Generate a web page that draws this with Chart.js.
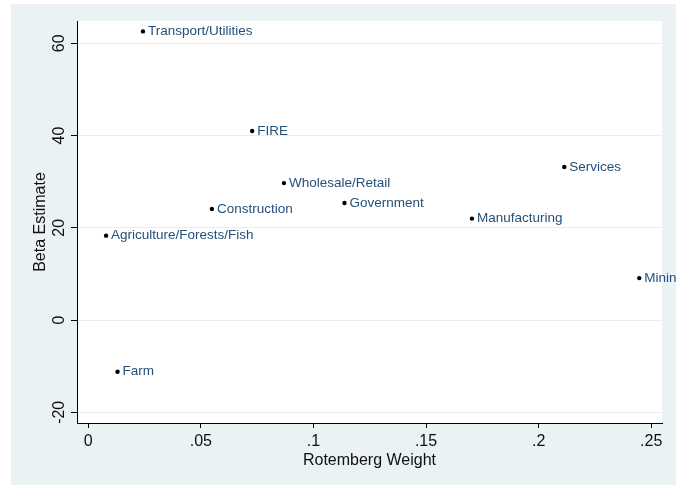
<!DOCTYPE html>
<html>
<head>
<meta charset="utf-8">
<script src="https://cdn.jsdelivr.net/npm/chart.js@4/dist/chart.umd.min.js"></script>
<style>
  html, body { margin: 0; padding: 0; background: #ffffff; }
  canvas { display: block; }
</style>
</head>
<body>
<canvas id="chart" width="676" height="485"></canvas>
<script>
// Industry groups: Rotemberg weight vs. beta estimate
const industries = [
  'Transport/Utilities', 'FIRE', 'Wholesale/Retail', 'Construction',
  'Agriculture/Forests/Fish', 'Services', 'Government', 'Manufacturing',
  'Mining', 'Farm'
];
const rotembergWeight = [0.0243, 0.0728, 0.0869, 0.0549, 0.0079, 0.2114, 0.1138, 0.1704, 0.2447, 0.0130];
const betaEstimate    = [62.6, 41.0, 29.7, 24.1, 18.3, 33.2, 25.4, 22.0, 9.1, -11.2];

const xTickValues = [0, 0.05, 0.1, 0.15, 0.2, 0.25];
const xTickLabels = ['0', '.05', '.1', '.15', '.2', '.25'];
const yTickValues = [-20, 0, 20, 40, 60];
const yTickLabels = ['-20', '0', '20', '40', '60'];

const xTitle = 'Rotemberg Weight';
const yTitle = 'Beta Estimate';

const FONT = '"Liberation Sans", Arial, Helvetica, sans-serif';
const OUTER_BG = '#eaf2f3';
const GRID = '#e6eef0';
const LABEL_COLOR = '#24507a';

const points = rotembergWeight.map((w, i) => ({ x: w, y: betaEstimate[i] }));

// Backgrounds: outer graph region and white plot region
const backdrop = {
  id: 'backdrop',
  beforeDraw(chart) {
    const { ctx, chartArea: a } = chart;
    ctx.save();
    ctx.fillStyle = '#ffffff';
    ctx.fillRect(0, 0, chart.width, chart.height);
    ctx.fillStyle = OUTER_BG;
    ctx.fillRect(11, 4, chart.width - 11, chart.height - 4);
    ctx.fillStyle = '#ffffff';
    ctx.fillRect(a.left, a.top, a.right - a.left, a.bottom - a.top);
    ctx.restore();
  }
};

// Vertical y tick labels and both axis titles
const axisText = {
  id: 'axisText',
  afterDraw(chart) {
    const { ctx, chartArea: a } = chart;
    const ys = chart.scales.y;
    ctx.save();
    ctx.fillStyle = '#111111';
    ctx.font = '16px ' + FONT;
    ctx.textAlign = 'center';
    ctx.textBaseline = 'alphabetic';
    yTickValues.forEach((v, i) => {
      const py = ys.getPixelForValue(v);
      ctx.save();
      ctx.translate(64, py);
      ctx.rotate(-Math.PI / 2);
      ctx.fillText(yTickLabels[i], 0, 0);
      ctx.restore();
    });
    // y title
    ctx.save();
    ctx.translate(45, (a.top + a.bottom) / 2);
    ctx.rotate(-Math.PI / 2);
    ctx.fillText(yTitle, 0, 0);
    ctx.restore();
    // x title
    ctx.fillText(xTitle, (a.left + a.right) / 2, 465);
    ctx.restore();
  }
};

// Marker labels to the right of each point
const markerLabels = {
  id: 'markerLabels',
  afterDatasetsDraw(chart) {
    const { ctx } = chart;
    const meta = chart.getDatasetMeta(0);
    ctx.save();
    ctx.fillStyle = LABEL_COLOR;
    ctx.font = '13.5px ' + FONT;
    ctx.textAlign = 'left';
    ctx.textBaseline = 'middle';
    meta.data.forEach((el, i) => {
      ctx.fillText(industries[i], el.x + 5, el.y);
    });
    ctx.restore();
  }
};

new Chart(document.getElementById('chart'), {
  type: 'scatter',
  data: {
    datasets: [{
      data: points,
      pointRadius: 2.2,
      pointHoverRadius: 2.2,
      pointBackgroundColor: '#000000',
      pointBorderWidth: 0,
      showLine: false,
      clip: false
    }]
  },
  options: {
    responsive: false,
    animation: false,
    events: [],
    layout: { padding: { left: 0, top: 21, right: 14, bottom: 0 } },
    plugins: {
      legend: { display: false },
      tooltip: { enabled: false }
    },
    scales: {
      x: {
        type: 'linear',
        min: -0.005,
        max: 0.2548,
        afterBuildTicks(scale) { scale.ticks = xTickValues.map(v => ({ value: v })); },
        afterFit(scale) { scale.height = 62; },
        border: { display: true, color: '#000000', width: 1 },
        grid: {
          display: true,
          drawOnChartArea: false,
          drawTicks: true,
          tickLength: 5,
          tickColor: '#000000'
        },
        ticks: {
          padding: 4,
          color: '#111111',
          font: { family: FONT, size: 16 },
          maxRotation: 0,
          callback(value) {
            const i = xTickValues.findIndex(v => Math.abs(v - value) < 1e-9);
            return i >= 0 ? xTickLabels[i] : '';
          }
        }
      },
      y: {
        type: 'linear',
        min: -22.32,
        max: 64.85,
        afterBuildTicks(scale) { scale.ticks = yTickValues.map(v => ({ value: v })); },
        afterFit(scale) { scale.width = 77; },
        border: { display: true, color: '#000000', width: 1 },
        grid: {
          display: true,
          drawOnChartArea: true,
          color: GRID,
          lineWidth: 1,
          drawTicks: true,
          tickLength: 6,
          tickColor: '#000000'
        },
        ticks: { display: false }
      }
    }
  },
  plugins: [backdrop, axisText, markerLabels]
});
</script>
</body>
</html>
